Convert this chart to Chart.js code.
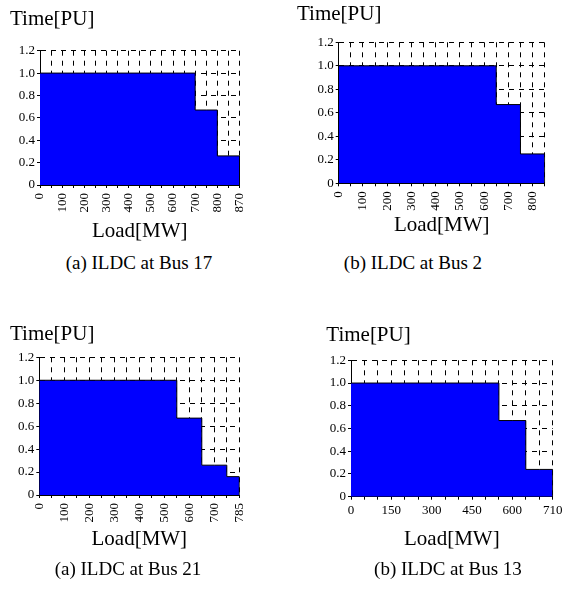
<!DOCTYPE html>
<html>
<head>
<meta charset="utf-8">
<script src="https://cdn.jsdelivr.net/npm/chart.js@4/dist/chart.umd.min.js"></script>
<style>
  body { margin: 0; background: #fff; width: 574px; height: 607px; position: relative; overflow: hidden; font-family: "Liberation Serif", serif; }
  .box { position: absolute; }
  .cap { position: absolute; width: 240px; text-align: center; font-size: 19px; line-height: 19px; color: #000; white-space: nowrap; }
</style>
</head>
<body>
<div class="box" style="left:0;top:0"><canvas id="c17" width="287" height="250"></canvas></div>
<div class="box" style="left:287px;top:0"><canvas id="c2" width="287" height="250"></canvas></div>
<div class="box" style="left:0;top:300px"><canvas id="c21" width="287" height="260"></canvas></div>
<div class="box" style="left:287px;top:300px"><canvas id="c13" width="287" height="260"></canvas></div>

<div class="cap" style="left:19px;top:253px">(a) ILDC at Bus 17</div>
<div class="cap" style="left:293px;top:253px">(b) ILDC at Bus 2</div>
<div class="cap" style="left:8px;top:559px">(a) ILDC at Bus 21</div>
<div class="cap" style="left:328px;top:559px">(b) ILDC at Bus 13</div>

<script>
// load levels (MW) and time durations (PU) for each bus
const load17 = ['0','50','100','150','200','250','300','350','400','450','500','550','600','650','700','750','800','850','870'];
const time17 = [1,1,1,1,1,1,1,1,1,1,1,1,1,1,0.67,0.67,0.26,0.26,0.26];

const load2 = ['0','50','100','150','200','250','300','350','400','450','500','550','600','650','700','750','800','850'];
const time2 = [1,1,1,1,1,1,1,1,1,1,1,1,1,0.67,0.67,0.25,0.25,0.25];

const load21 = ['0','50','100','150','200','250','300','350','400','450','500','550','600','650','700','750','785'];
const time21 = [1,1,1,1,1,1,1,1,1,1,1,0.67,0.67,0.26,0.26,0.16,0.16];

const load13 = ['0','50','100','150','200','250','300','350','400','450','500','550','600','650','700','710'];
const time13 = [1,1,1,1,1,1,1,1,1,1,1,0.67,0.67,0.24,0.24,0.24];

const yTicks = [0, 0.2, 0.4, 0.6, 0.8, 1.0, 1.2];

const serif = 'Liberation Serif';

function makeChart(id, labels, values, lay) {
    const pts = labels.map((l, i) => ({ x: l, y: values[i] }));
    pts.push({ x: labels[labels.length - 1], y: 0 });

    new Chart(document.getElementById(id), {
        type: 'line',
        data: {
            labels: labels,
            datasets: [{
                data: pts,
                stepped: true,
                fill: 'origin',
                backgroundColor: '#0000ff',
                borderColor: '#000',
                borderWidth: 1,
                pointRadius: 0
            }]
        },
        options: {
            responsive: false,
            animation: false,
            layout: { padding: { left: lay.padL, right: lay.padR, top: 0, bottom: 0 } },
            plugins: {
                legend: { display: false },
                tooltip: { enabled: false },
                title: {
                    display: true,
                    text: 'Time[PU]',
                    align: 'start',
                    color: '#000',
                    font: { family: serif, size: 21, weight: 'normal' },
                    padding: { top: lay.tTop, bottom: lay.tBot }
                }
            },
            scales: {
                x: {
                    type: 'category',
                    grid: { color: '#000', lineWidth: 1, tickLength: 3, tickColor: '#000' },
                    border: { display: true, color: '#000', width: 1, dash: [5, 5] },
                    ticks: {
                        autoSkip: false,
                        minRotation: lay.rot,
                        maxRotation: lay.rot,
                        padding: lay.rot ? 5 : 3,
                        color: '#000',
                        font: { family: serif, size: 13 },
                        callback: function (v, i) { return i % lay.step === 0 ? this.getLabelForValue(v) : ''; }
                    },
                    title: {
                        display: true,
                        text: 'Load[MW]',
                        color: '#000',
                        font: { family: serif, size: 21 },
                        padding: { top: 0, bottom: lay.xTitleBot }
                    },
                    afterFit: s => { s.height = lay.xH; }
                },
                y: {
                    min: 0,
                    max: 1.2,
                    afterBuildTicks: s => { s.ticks = yTicks.map(v => ({ value: v })); },
                    grid: { color: '#000', lineWidth: 1, tickLength: 3, tickColor: '#000' },
                    border: { display: true, color: '#000', width: 1, dash: [5, 5] },
                    ticks: {
                        padding: 2,
                        color: '#000',
                        font: { family: serif, size: 13 },
                        callback: v => v === 0 ? '0' : v.toFixed(1)
                    },
                    afterFit: s => { s.width = lay.yW; }
                }
            }
        }
    });
}

makeChart('c17', load17, time17, { padL: 10, padR: 47.5, yW: 30, xH: 65, tTop: 6.6, tBot: 18.9, xTitleBot: 5.9, rot: 90, step: 2 });
makeChart('c2', load2, time2, { padL: 10, padR: 29.3, yW: 41.7, xH: 66.7, tTop: 1.4, tBot: 15.7, xTitleBot: 12.4, rot: 90, step: 2 });
makeChart('c21', load21, time21, { padL: 10, padR: 47.7, yW: 29.3, xH: 65, tTop: 21.4, tBot: 10.7, xTitleBot: 8.4, rot: 90, step: 2 });
makeChart('c13', load13, time13, { padL: 39.3, padR: 21.3, yW: 24.7, xH: 63.3, tTop: 22.4, tBot: 12.7, xTitleBot: 8.4, rot: 0, step: 3 });
</script>
</body>
</html>
